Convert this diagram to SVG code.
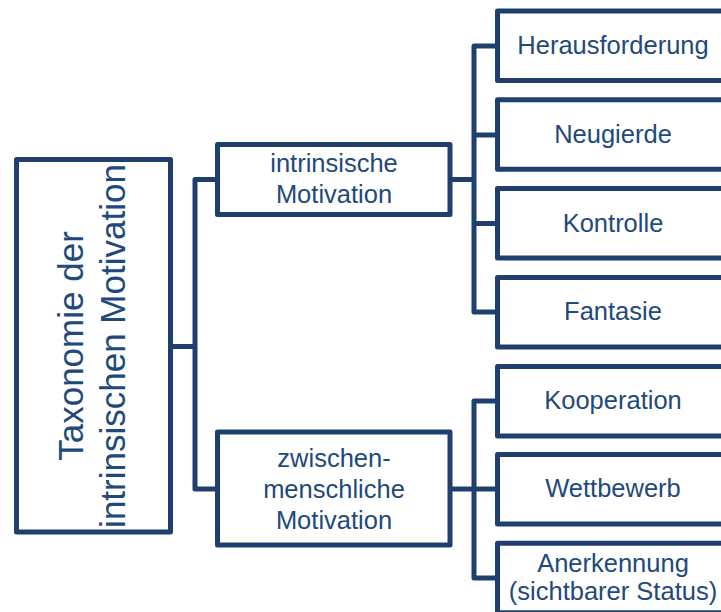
<svg xmlns="http://www.w3.org/2000/svg" width="721" height="612" viewBox="0 0 721 612">
  <style>
    .box { fill: #ffffff; stroke: #1f3f6e; stroke-width: 5; stroke-linejoin: round; }
    .link { fill: none; stroke: #1f3f6e; stroke-width: 5; stroke-linejoin: round; }
    .label { font-family: "Liberation Sans", Arial, sans-serif; font-size: 25.5px; fill: #22497c; text-anchor: middle; }
    .root { font-size: 35px; }
  </style>
  <rect width="721" height="612" fill="#ffffff"/>

  <!-- connectors -->
  <g id="connectors">
    <!-- root to second level -->
    <path class="link" d="M171 346.5 H195"/>
    <path class="link" d="M217.5 179.5 H195 V489 H217.5"/>
    <!-- intrinsische Motivation to its four children -->
    <path class="link" d="M450 179.5 H474"/>
    <path class="link" d="M497.5 46 H474 V312 H497.5"/>
    <path class="link" d="M474 135 H497.5"/>
    <path class="link" d="M474 223.5 H497.5"/>
    <!-- zwischenmenschliche Motivation to its three children -->
    <path class="link" d="M450 489 H474"/>
    <path class="link" d="M497.5 401 H474 V578 H497.5"/>
    <path class="link" d="M474 489 H497.5"/>
  </g>

  <!-- root -->
  <g id="root">
    <rect class="box" x="16.5" y="159.5" width="154" height="372.5"/>
    <text class="label root" transform="translate(83 346) rotate(-90)">Taxonomie der</text>
    <text class="label root" transform="translate(125 346) rotate(-90)">intrinsischen Motivation</text>
  </g>

  <!-- second level -->
  <g id="intrinsisch">
    <rect class="box" x="217.5" y="144.5" width="232.5" height="70"/>
    <text class="label" x="334" y="171.5">intrinsische</text>
    <text class="label" x="334" y="202.5">Motivation</text>
  </g>
  <g id="zwischenmenschlich">
    <rect class="box" x="217.5" y="432" width="232.5" height="113"/>
    <text class="label" x="334" y="466.5">zwischen-</text>
    <text class="label" x="334" y="497.5">menschliche</text>
    <text class="label" x="334" y="528.5">Motivation</text>
  </g>

  <!-- leaves of intrinsische Motivation -->
  <g id="herausforderung">
    <rect class="box" x="497.5" y="11" width="232" height="69.5"/>
    <text class="label" x="613" y="54">Herausforderung</text>
  </g>
  <g id="neugierde">
    <rect class="box" x="497.5" y="99.8" width="232" height="69.5"/>
    <text class="label" x="613" y="143.2">Neugierde</text>
  </g>
  <g id="kontrolle">
    <rect class="box" x="497.5" y="188.6" width="232" height="69.5"/>
    <text class="label" x="613" y="231.8">Kontrolle</text>
  </g>
  <g id="fantasie">
    <rect class="box" x="497.5" y="277.4" width="232" height="69.5"/>
    <text class="label" x="613" y="320.2">Fantasie</text>
  </g>

  <!-- leaves of zwischenmenschliche Motivation -->
  <g id="kooperation">
    <rect class="box" x="497.5" y="366.5" width="232" height="69.5"/>
    <text class="label" x="613" y="409.4">Kooperation</text>
  </g>
  <g id="wettbewerb">
    <rect class="box" x="497.5" y="454.6" width="232" height="69.5"/>
    <text class="label" x="613" y="497.4">Wettbewerb</text>
  </g>
  <g id="anerkennung">
    <rect class="box" x="497.5" y="543.3" width="232" height="69.5"/>
    <text class="label" x="613" y="571.7">Anerkennung</text>
    <text class="label" x="613" y="600">(sichtbarer Status)</text>
  </g>
</svg>
